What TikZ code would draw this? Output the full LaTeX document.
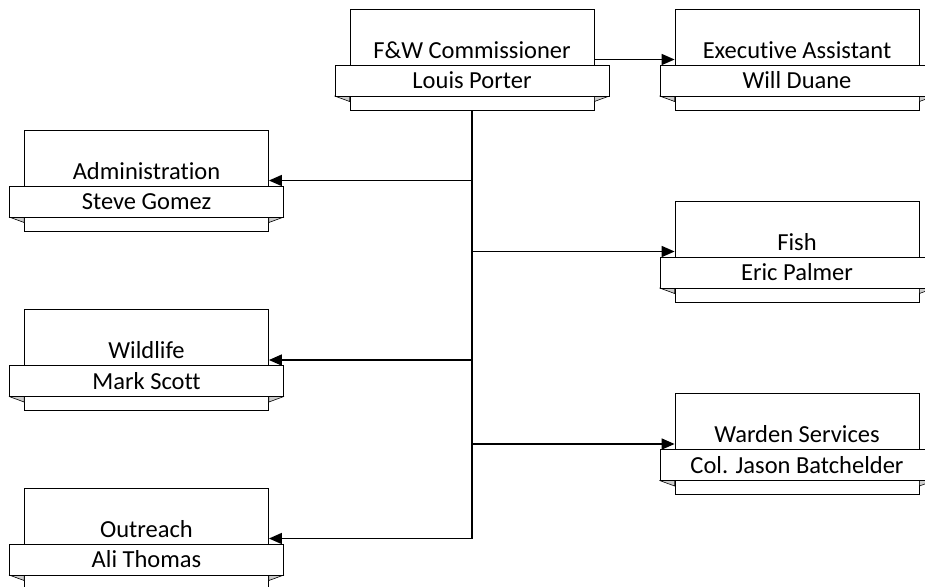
\documentclass[tikz,border=0pt]{standalone}
\usepackage{fontspec}
\setmainfont{Carlito}[Ligatures={NoCommon}]
\usetikzlibrary{positioning, arrows.meta}
\tikzstyle{Unit}=[draw, fill=white, minimum width=244pt, minimum height=101pt, inner sep=0pt, line width=0.8pt]
\tikzstyle{Band}=[draw, fill=white, minimum width=274pt, minimum height=31pt, inner sep=0pt, line width=0.8pt]
\tikzstyle{Fold}=[draw, fill=gray!40, line width=0.6pt, line join=round]
\tikzstyle{Link}=[-{Triangle[length=13pt,width=11pt]}, line width=1.6pt]
\tikzstyle{Trunk}=[line width=2pt]

% outer box, folded ribbon and the two texts
\newcommand{\orgunit}[4]{%
  \node[Unit] (#1) at (#2) {};
  \node (#1-t) at ([yshift=9.5pt]#1.center) {#3};
  \draw[Fold] ([xshift=-15pt,yshift=-36.5pt]#1.west) -- ([yshift=-36.5pt]#1.west) -- ([yshift=-42pt]#1.west) -- cycle;
  \draw[Fold] ([xshift=15pt,yshift=-36.5pt]#1.east) -- ([yshift=-36.5pt]#1.east) -- ([yshift=-42pt]#1.east) -- cycle;
  \node[Band] (#1-b) at ([yshift=-21pt]#1.center) {#4};
}

\begin{document}
\begin{tikzpicture}[x=1pt, y=-1pt, every node/.style={font=\fontsize{24.5}{28}\selectfont}]
	\useasboundingbox (0, 0) rectangle (925, 586);
	\orgunit{comm}{472, 59.5}{F\&W Commissioner}{Louis Porter}
	\orgunit{exec}{797, 59.5}{Executive Assistant}{Will Duane}
	\orgunit{admin}{146.5, 180.5}{Administration}{Steve Gomez}
	\orgunit{fish}{797, 251.5}{Fish}{Eric Palmer}
	\orgunit{wild}{146.5, 360}{Wildlife}{Mark Scott}
	\orgunit{warden}{797, 444}{Warden Services}{Col. Jason Batchelder}
	\orgunit{outreach}{146.5, 538.5}{Outreach}{Ali Thomas}

	\draw[Trunk] (comm.south) -- (comm.south |- outreach.east);
	\draw[Link] (comm.east) -- (exec.west);
	\foreach \u in {admin, wild, outreach}
		\draw[Link] (comm.south |- \u.east) -- (\u.east);
	\foreach \u in {fish, warden}
		\draw[Link] (comm.south |- \u.west) -- (\u.west);
\end{tikzpicture}
\end{document}
